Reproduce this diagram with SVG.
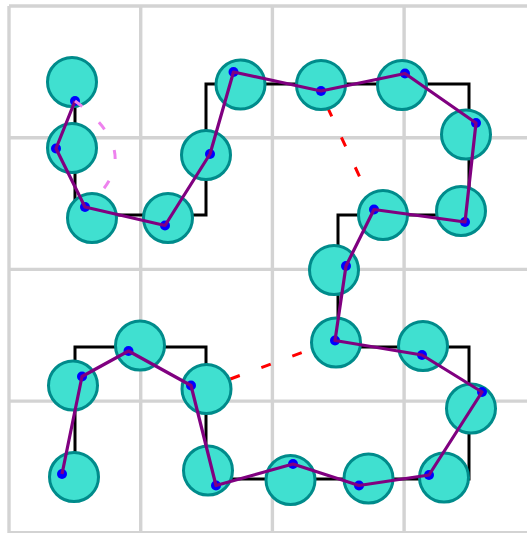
<svg xmlns="http://www.w3.org/2000/svg" width="527" height="533" viewBox="0 0 527 533">
<style>
.grid{stroke:#D3D3D3;stroke-width:3.4;fill:none}
.hil{stroke:#000;stroke-width:3;fill:none;stroke-linejoin:miter}
.node{fill:#40E0D0;stroke:#008B8B;stroke-width:3}
.dot{fill:#0000FF}
.route{stroke:#800080;stroke-width:3.2;fill:none;stroke-linejoin:round}
.red{stroke:#FF0000;stroke-width:3;fill:none;stroke-dasharray:10 23}
.pink{stroke:#EE82EE;stroke-width:3;fill:none;stroke-dasharray:9 23 9 23 9 23 9 200}
</style>
<rect width="527" height="533" fill="#fff"/>
<g id="grid" class="grid">
<path d="M9 6V533M140.7 6V533M272.4 6V533M404.1 6V533M535.8 6V533M9 6H536M9 137.7H536M9 269.4H536M9 401.1H536M9 532.8H536"/>
</g>
<g id="connectors">
<path class="hil" d="M75 479V347H206V479H469V347H338V215H469V84H206V215H75V84"/>
<path class="red" stroke-dashoffset="15" d="M320 91L375 210"/>
<path class="red" stroke-dashoffset="7" d="M206 388L336 340"/>
</g>
<g id="node1"><circle class="node" cx="72" cy="82" r="24.5"/></g>
<g id="node2"><circle class="node" cx="72" cy="148" r="24.5"/></g>
<g id="node3"><circle class="node" cx="92" cy="218" r="24.5"/></g>
<g id="node4"><circle class="node" cx="168" cy="218" r="24.5"/></g>
<g id="node5"><circle class="node" cx="206" cy="155" r="24.5"/></g>
<g id="node6"><circle class="node" cx="240.5" cy="84.5" r="24.5"/></g>
<g id="node7"><circle class="node" cx="321" cy="85" r="24.5"/></g>
<g id="node8"><circle class="node" cx="402" cy="85" r="24.5"/></g>
<g id="node9"><circle class="node" cx="466" cy="134.5" r="24.5"/></g>
<g id="node10"><circle class="node" cx="461" cy="211" r="24.5"/></g>
<g id="node11"><circle class="node" cx="383" cy="215" r="24.5"/></g>
<g id="node12"><circle class="node" cx="334" cy="270" r="24.5"/></g>
<g id="node13"><circle class="node" cx="336" cy="342.5" r="24.5"/></g>
<g id="node14"><circle class="node" cx="423" cy="346" r="24.5"/></g>
<g id="node15"><circle class="node" cx="471" cy="408.5" r="24.5"/></g>
<g id="node16"><circle class="node" cx="444" cy="477.5" r="24.5"/></g>
<g id="node17"><circle class="node" cx="368.5" cy="478.5" r="24.5"/></g>
<g id="node18"><circle class="node" cx="290.5" cy="480" r="24.5"/></g>
<g id="node19"><circle class="node" cx="208" cy="470.5" r="24.5"/></g>
<g id="node20"><circle class="node" cx="206.5" cy="389" r="24.5"/></g>
<g id="node21"><circle class="node" cx="140" cy="345.5" r="24.5"/></g>
<g id="node22"><circle class="node" cx="73" cy="385.5" r="24.5"/></g>
<g id="node23"><circle class="node" cx="74" cy="477" r="24.5"/></g>
<g id="dots">
<circle class="dot" cx="75" cy="101" r="5"/>
<circle class="dot" cx="56" cy="148.5" r="5"/>
<circle class="dot" cx="85" cy="207" r="5"/>
<circle class="dot" cx="165" cy="225.5" r="5"/>
<circle class="dot" cx="210" cy="154" r="5"/>
<circle class="dot" cx="233.5" cy="72" r="5"/>
<circle class="dot" cx="321" cy="91" r="5"/>
<circle class="dot" cx="405" cy="73.5" r="5"/>
<circle class="dot" cx="476" cy="123" r="5"/>
<circle class="dot" cx="465" cy="222" r="5"/>
<circle class="dot" cx="374" cy="209.5" r="5"/>
<circle class="dot" cx="346" cy="266" r="5"/>
<circle class="dot" cx="335" cy="340.5" r="5"/>
<circle class="dot" cx="422" cy="355" r="5"/>
<circle class="dot" cx="482" cy="392" r="5"/>
<circle class="dot" cx="429" cy="475" r="5"/>
<circle class="dot" cx="359" cy="485.5" r="5"/>
<circle class="dot" cx="293" cy="464" r="5"/>
<circle class="dot" cx="216" cy="485.5" r="5"/>
<circle class="dot" cx="191" cy="385.5" r="5"/>
<circle class="dot" cx="128.5" cy="351" r="5"/>
<circle class="dot" cx="82" cy="376.5" r="5"/>
<circle class="dot" cx="62" cy="474" r="5"/>
</g>
<g id="route">
<polyline class="route" points="75,101 56,148.5 85,207 165,225.5 210,154 233.5,72 321,91 405,73.5 476,123 465,222 374,209.5 346,266 335,340.5 422,355 482,392 429,475 359,485.5 293,464 216,485.5 191,385.5 128.5,351 82,376.5 62,474"/>
</g>
<g id="pinkdash">
<path class="pink" d="M75 101Q150 156 85 207"/>
</g>
</svg>
